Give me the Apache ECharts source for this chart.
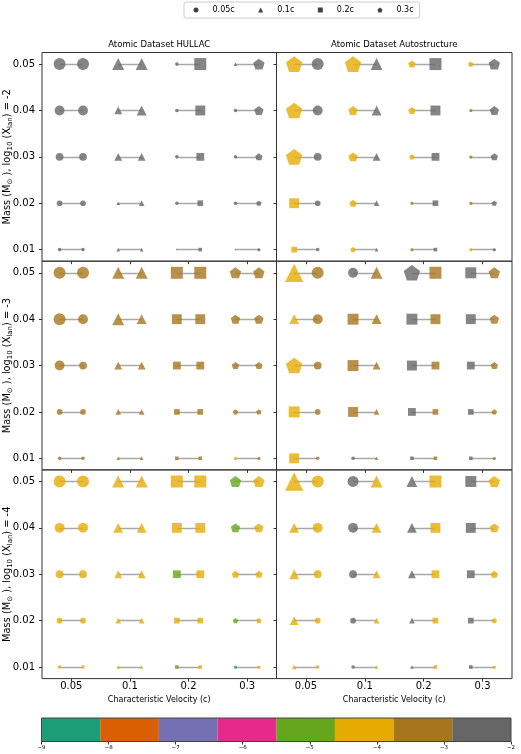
<!DOCTYPE html>
<html>
<head>
<meta charset="utf-8">
<script src="https://cdn.jsdelivr.net/npm/echarts@6/dist/echarts.min.js"></script>
<style>
html, body { margin: 0; padding: 0; background: #fff; }
#main { width: 521px; height: 754px; }
</style>
</head>
<body>
<div id="main"></div>
<script>
var velocities = [0.05, 0.1, 0.2, 0.3];
var velLabels = ['0.05', '0.1', '0.2', '0.3'];
var legendLabels = ['0.05c', '0.1c', '0.2c', '0.3c'];
var masses = [0.01, 0.02, 0.03, 0.04, 0.05];
var abundances = [-2, -3, -4];
var datasetNames = ['HULLAC', 'Autostructure'];
var cbarTicks = [-9, -8, -7, -6, -5, -4, -3, -2];
var cbarColors = ['#1b9e77', '#d95f02', '#7570b3', '#e7298a', '#66a61e', '#e6ab02', '#a6761d', '#666666'];

// recovered values: one row per true velocity (0.05, 0.1, 0.2, 0.3),
// each row runs over the true masses 0.01 .. 0.05
var hullac2Vel = [[0.05, 0.05, 0.05, 0.05, 0.05], [0.1, 0.1, 0.1, 0.1, 0.1], [0.05, 0.05, 0.05, 0.05, 0.05], [0.05, 0.05, 0.05, 0.05, 0.1]];
var hullac2Mass = [[0.01, 0.02, 0.03, 0.04, 0.05], [0.01, 0.01, 0.03, 0.03, 0.05], [0, 0.01, 0.01, 0.01, 0.01], [0, 0.01, 0.01, 0.01, 0.01]];
var hullac2Abund = [[-2, -2, -2, -2, -2], [-2, -2, -2, -2, -2], [-2, -2, -2, -2, -2], [-2, -2, -2, -2, -2]];

var auto2Vel = [[0.2, 0.2, 0.3, 0.3, 0.3], [0.3, 0.3, 0.3, 0.3, 0.3], [0.3, 0.3, 0.3, 0.3, 0.3], [0.3, 0.3, 0.3, 0.3, 0.3]];
var auto2Mass = [[0.02, 0.04, 0.075, 0.075, 0.075], [0.02, 0.03, 0.04, 0.04, 0.075], [0.01, 0.01, 0.02, 0.03, 0.03], [0.01, 0.01, 0.01, 0.01, 0.02]];
var auto2Abund = [[-4, -4, -4, -4, -4], [-4, -4, -4, -4, -4], [-3, -3, -4, -4, -4], [-4, -3, -3, -3, -4]];

var hullac3Vel = [[0.05, 0.05, 0.05, 0.05, 0.05], [0.1, 0.1, 0.1, 0.1, 0.1], [0.2, 0.2, 0.2, 0.2, 0.2], [0.3, 0.3, 0.3, 0.3, 0.3]];
var hullac3Mass = [[0.01, 0.02, 0.04, 0.05, 0.05], [0.01, 0.02, 0.03, 0.05, 0.05], [0.01, 0.02, 0.03, 0.04, 0.05], [0.01, 0.02, 0.03, 0.04, 0.05]];
var hullac3Abund = [[-3, -3, -3, -3, -3], [-3, -3, -3, -3, -3], [-3, -3, -3, -3, -3], [-4, -3, -3, -3, -3]];

var auto3Vel = [[0.2, 0.2, 0.3, 0.1, 0.1], [0.05, 0.2, 0.2, 0.2, 0.05], [0.2, 0.2, 0.2, 0.2, 0.3], [0.2, 0.2, 0.2, 0.2, 0.2]];
var auto3Mass = [[0.04, 0.045, 0.075, 0.04, 0.08], [0.01, 0.04, 0.045, 0.045, 0.04], [0.01, 0.03, 0.04, 0.045, 0.075], [0.01, 0.02, 0.03, 0.04, 0.045]];
var auto3Abund = [[-4, -4, -4, -4, -4], [-2, -3, -3, -3, -2], [-2, -2, -2, -2, -2], [-2, -2, -2, -2, -2]];

var hullac4Vel = [[0.05, 0.05, 0.05, 0.05, 0.05], [0.1, 0.1, 0.1, 0.1, 0.1], [0.2, 0.2, 0.2, 0.2, 0.2], [0.3, 0.3, 0.3, 0.3, 0.3]];
var hullac4Mass = [[0.01, 0.02, 0.03, 0.04, 0.05], [0.01, 0.02, 0.03, 0.04, 0.05], [0.01, 0.02, 0.03, 0.04, 0.05], [0.01, 0.02, 0.03, 0.04, 0.05]];
var hullac4Abund = [[-4, -4, -4, -4, -4], [-4, -4, -4, -4, -4], [-5, -4, -5, -4, -4], [-9, -5, -4, -5, -5]];

var auto4Vel = [[0.1, 0.1, 0.1, 0.1, 0.1], [0.05, 0.05, 0.05, 0.05, 0.05], [0.1, 0.1, 0.1, 0.1, 0.1], [0.2, 0.2, 0.2, 0.2, 0.2]];
var auto4Mass = [[0.015, 0.035, 0.04, 0.04, 0.08], [0.01, 0.02, 0.03, 0.04, 0.045], [0.01, 0.02, 0.03, 0.04, 0.045], [0.01, 0.02, 0.03, 0.04, 0.045]];
var auto4Abund = [[-4, -4, -4, -4, -4], [-2, -2, -2, -2, -2], [-2, -2, -2, -2, -2], [-2, -2, -2, -2, -2]];

// panels row by row: log X = -2, -3, -4 ; columns HULLAC, Autostructure
var panels = [
    {vel: hullac2Vel, mass: hullac2Mass, abund: hullac2Abund},
    {vel: auto2Vel, mass: auto2Mass, abund: auto2Abund},
    {vel: hullac3Vel, mass: hullac3Mass, abund: hullac3Abund},
    {vel: auto3Vel, mass: auto3Mass, abund: auto3Abund},
    {vel: hullac4Vel, mass: hullac4Mass, abund: hullac4Abund},
    {vel: auto4Vel, mass: auto4Mass, abund: auto4Abund}
];

var FONT = 'DejaVu Sans';
var pentagon = 'path://M0,-1L0.951,-0.309L0.588,0.809L-0.588,0.809L-0.951,-0.309Z';
var symbols = ['circle', 'triangle', 'rect', pentagon];
var offset = 0.2;

function colourOf(logX) {
    var lo = cbarTicks[0], hi = cbarTicks[cbarTicks.length - 1];
    var k = Math.floor((logX - lo) / (hi - lo) * cbarColors.length);
    return cbarColors[Math.max(0, Math.min(cbarColors.length - 1, k))];
}

function marker(x, y, v, m, logX) {
    var k = velocities.indexOf(v);
    var d = 1.5 + 210 * m;
    return {
        value: [x, y],
        symbol: symbols[k],
        symbolSize: k === 3 ? d * 0.95 : d,
        itemStyle: {color: colourOf(logX)}
    };
}

var colLeft = [42, 276.5], colWidth = [234.5, 235.5];
var rowTop = [52.5, 261.2, 469.9], rowHeight = 208.7;

var grids = [], xAxes = [], yAxes = [], series = [];

panels.forEach(function (p, i) {
    var r = Math.floor(i / 2), c = i % 2;
    grids.push({left: colLeft[c], top: rowTop[r], width: colWidth[c], height: rowHeight,
        outerBoundsMode: 'none', containLabel: false,
        show: true, borderColor: '#333', borderWidth: 1, backgroundColor: 'transparent'});
    xAxes.push({
        gridIndex: i, type: 'value', min: -0.5, max: 3.5,
        axisLine: {show: false, onZero: false},
        axisTick: {show: true, inside: false, length: 3, customValues: [0, 1, 2, 3], lineStyle: {color: '#333'}},
        axisLabel: {show: r === 2, customValues: [0, 1, 2, 3], margin: 3, fontSize: 10, color: '#000', fontFamily: FONT,
            formatter: function (v) { return velLabels[Math.round(v)]; }},
        splitLine: {show: false},
        name: r === 2 ? 'Characteristic Velocity (c)' : '',
        nameLocation: 'middle', nameGap: 17, nameMoveOverlap: false,
        nameTextStyle: {fontSize: 8, color: '#000', fontFamily: FONT}
    });
    yAxes.push({
        gridIndex: i, type: 'value', min: 0.0075, max: 0.0525,
        axisLine: {show: false, onZero: false},
        axisTick: {show: true, inside: false, length: 3, customValues: masses, lineStyle: {color: '#333'}},
        axisLabel: {show: c === 0, customValues: masses, margin: 7, fontSize: 10, color: '#000', fontFamily: FONT,
            formatter: function (v) { return v.toFixed(2); }},
        splitLine: {show: false},
        name: c === 0 ? '{t|Mass (M}{s|\u2299}{t| ), log}{s|10}{t| (X}{s|lan}{t|) = ' + abundances[r] + '}' : '',
        nameLocation: 'middle', nameRotate: 90, nameGap: 28, nameMoveOverlap: false,
        nameTextStyle: {
            fontFamily: FONT, color: '#000',
            rich: {
                t: {fontSize: 9.8, lineHeight: 13, fontFamily: FONT, color: '#000'},
                s: {fontSize: 7, lineHeight: 13, verticalAlign: 'bottom', fontFamily: FONT, color: '#000'}
            }
        }
    });

    var lineData = [], leftData = [], rightData = [];
    velocities.forEach(function (v, k) {
        masses.forEach(function (m, j) {
            lineData.push({coords: [[k - offset, m], [k + offset, m]]});
            leftData.push(marker(k - offset, m, p.vel[k][j], p.mass[k][j], p.abund[k][j]));
            rightData.push(marker(k + offset, m, v, m, abundances[r]));
        });
    });
    series.push({
        type: 'lines', coordinateSystem: 'cartesian2d', xAxisIndex: i, yAxisIndex: i,
        data: lineData, silent: true, z: 1,
        lineStyle: {color: '#a8a8a8', width: 1.3, opacity: 1}
    });
    series.push({
        type: 'scatter', xAxisIndex: i, yAxisIndex: i, data: leftData, z: 3,
        symbolKeepAspect: true, silent: true
    });
    series.push({
        type: 'scatter', xAxisIndex: i, yAxisIndex: i, data: rightData, z: 3,
        symbolKeepAspect: true, silent: true
    });
});

// colour bar
var cbIndex = grids.length;
grids.push({left: 41.5, top: 718, width: 469.5, height: 23.5, show: true,
    outerBoundsMode: 'none', containLabel: false,
    borderColor: '#444', borderWidth: 1, backgroundColor: 'transparent', z: 5});
xAxes.push({
    gridIndex: cbIndex, type: 'value', min: cbarTicks[0], max: cbarTicks[cbarTicks.length - 1], interval: 1,
    axisLine: {show: false, onZero: false},
    axisTick: {show: true, inside: false, length: 3, lineStyle: {color: '#333'}},
    axisLabel: {fontSize: 5.5, color: '#000', margin: 3, fontFamily: FONT,
        formatter: function (v) { return String(v).replace('-', '\u2212'); }},
    splitLine: {show: false}
});
yAxes.push({gridIndex: cbIndex, type: 'value', min: 0, max: 1, show: false});
var step = (cbarTicks[cbarTicks.length - 1] - cbarTicks[0]) / cbarColors.length;
series.push({
    type: 'custom', xAxisIndex: cbIndex, yAxisIndex: cbIndex, silent: true,
    data: cbarColors.map(function (col, k) { return [cbarTicks[0] + k * step, cbarTicks[0] + (k + 1) * step]; }),
    encode: {x: [0, 1]},
    renderItem: function (params, api) {
        var a = api.coord([api.value(0), 1]);
        var b = api.coord([api.value(1), 0]);
        return {type: 'rect', shape: {x: a[0], y: a[1], width: b[0] - a[0], height: b[1] - a[1]},
            style: {fill: cbarColors[params.dataIndex]}};
    }
});

// legend entries
legendLabels.forEach(function (n) {
    series.push({type: 'scatter', name: n, xAxisIndex: 0, yAxisIndex: 0, data: [], itemStyle: {color: '#111'}});
});

var myChart = echarts.init(document.getElementById('main'));
myChart.setOption({
    animation: false,
    backgroundColor: '#fff',
    textStyle: {fontFamily: FONT},
    title: datasetNames.map(function (n, c) {
        return {text: 'Atomic Dataset ' + n, left: colLeft[c] + colWidth[c] / 2, top: 40, padding: 0,
            textAlign: 'center',
            textStyle: {fontSize: 8.5, fontWeight: 'normal', color: '#000', fontFamily: FONT}};
    }),
    legend: {
        left: 184, top: 2, padding: [4, 6, 4, 9.5], itemWidth: 5, itemHeight: 5, itemGap: 23.5,
        borderColor: '#ccc', borderWidth: 1, borderRadius: 2, selectedMode: false,
        textStyle: {fontSize: 8, color: '#000', fontFamily: FONT, padding: [0, 0, 0, 9]},
        data: legendLabels.map(function (n, k) { return {name: n, icon: symbols[k]}; })
    },
    grid: grids,
    xAxis: xAxes,
    yAxis: yAxes,
    series: series
});
</script>
</body>
</html>
